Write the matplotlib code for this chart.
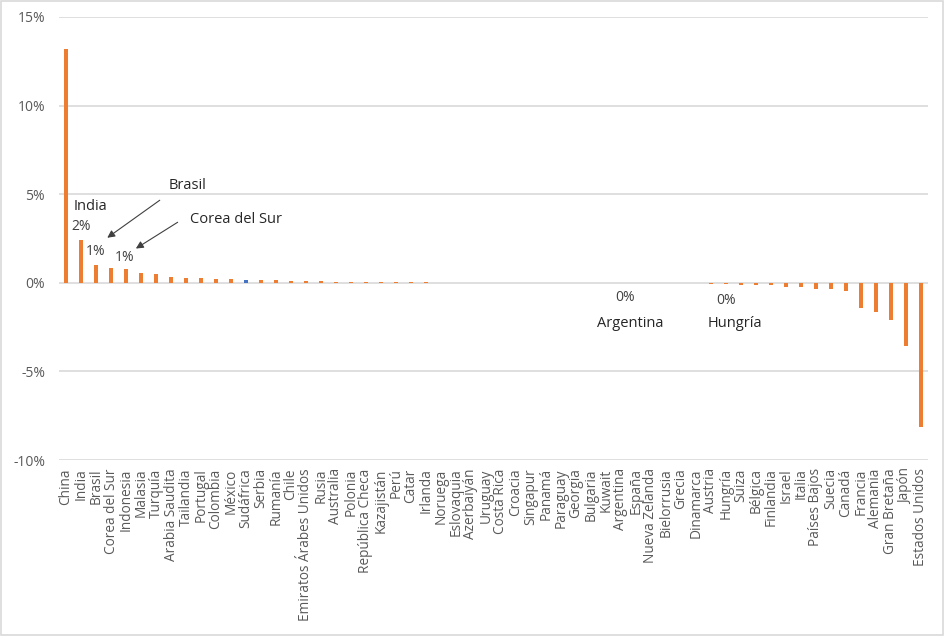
import matplotlib
matplotlib.use('Agg')
import matplotlib.pyplot as plt
import matplotlib.patches as mpatches
import numpy as np

plt.rcParams.update({
    'font.family': ['Open Sans', 'DejaVu Sans'],
    'font.size': 10,
})

# ============================================================
# Data (in %)
# ============================================================
countries = [
    'China', 'India', 'Brasil', 'Corea del Sur', 'Indonesia', 'Malasia', 'Turquía',
    'Arabia Saudita', 'Tailandia', 'Portugal', 'Colombia', 'México', 'Sudáfrica',
    'Serbia', 'Rumanía', 'Chile', 'Emiratos Árabes Unidos', 'Rusia', 'Australia',
    'Polonia', 'República Checa', 'Kazajistán', 'Perú', 'Catar', 'Irlanda',
    'Noruega', 'Eslovaquia', 'Azerbaiyán', 'Uruguay', 'Costa Rica', 'Croacia',
    'Singapur', 'Panamá', 'Paraguay', 'Georgia', 'Bulgaria', 'Kuwait', 'Argentina',
    'España', 'Nueva Zelanda', 'Bielorrusia', 'Grecia', 'Dinamarca', 'Austria',
    'Hungría', 'Suiza', 'Bélgica', 'Finlandia', 'Israel', 'Italia', 'Países Bajos',
    'Suecia', 'Canadá', 'Francia', 'Alemania', 'Gran Bretaña', 'Japón',
    'Estados Unidos',
]
values = [
    13.2, 2.43, 0.98, 0.85, 0.79, 0.55, 0.51,
    0.32, 0.28, 0.26, 0.21, 0.20, 0.17,
    0.14, 0.13, 0.12, 0.10, 0.09, 0.07,
    0.06, 0.05, 0.05, 0.04, 0.04, 0.04,
    0.0, 0.0, 0.0, 0.0, 0.0, 0.0,
    0.0, 0.0, 0.0, 0.0, 0.0, 0.0, 0.0,
    0.0, 0.0, 0.0, 0.0, 0.0, -0.04,
    -0.04, -0.15, -0.15, -0.15, -0.23, -0.23, -0.34,
    -0.34, -0.47, -1.45, -1.64, -2.10, -3.57,
    -8.12,
]
highlight = 'Sudáfrica'
yticks = [-10, -5, 0, 5, 10, 15]

col_bar = '#ED7D31'
col_hl = '#4472C4'
col_grid = '#D9D9D9'
col_tick = '#595959'

# ============================================================
# Figure
# ============================================================
fig = plt.figure(figsize=(9.45, 6.36), dpi=100)
ax = fig.add_axes([0.0624, 0.2767, 0.9196, 0.6966])

x = np.arange(len(countries))
colors = [col_hl if c == highlight else col_bar for c in countries]
ax.bar(x, values, width=0.32, color=colors, zorder=3)

ax.set_xlim(-0.47, len(countries) - 0.53)
ax.set_ylim(-10, 15)
ax.set_yticks(yticks)
ax.set_yticklabels([f'{v}%' for v in yticks], color=col_tick, fontsize=10)
ax.set_xticks(x)
ax.set_xticklabels(countries, rotation=90, color=col_tick, fontsize=9.8)
ax.tick_params(length=0, pad=6)
ax.tick_params(axis='y', pad=10)
ax.grid(axis='y', color=col_grid, lw=1.2, zorder=0)
for s in ax.spines.values():
    s.set_visible(False)

# ============================================================
# Annotations
# ============================================================
def xi(name):
    return countries.index(name)

txt_kw = dict(fontsize=10.5, color='#262626', ha='center', va='center')
lab_kw = dict(fontsize=10, color='#404040', ha='center', va='center')
arr_kw = dict(arrowstyle='-|>', color='#404040', lw=0.8, mutation_scale=11)

ax.text(xi('India') + 0.6, 4.3, 'India', **txt_kw)
ax.text(xi('India'), 3.2, '2%', **lab_kw)
ax.text(xi('Brasil'), 1.75, '1%', **lab_kw)
ax.text(xi('Corea del Sur') + 0.9, 1.45, '1%', **lab_kw)

ax.text(xi('Indonesia') + 4.1, 5.5, 'Brasil', **txt_kw)
ax.annotate('', xy=(xi('Brasil') + 0.6, 2.45), xytext=(xi('Indonesia') + 2.4, 4.75),
            arrowprops=arr_kw)
ax.text(xi('Indonesia') + 7.3, 3.6, 'Corea del Sur', **txt_kw)
ax.annotate('', xy=(xi('Corea del Sur') + 1.5, 1.85), xytext=(xi('Indonesia') + 3.6, 3.5),
            arrowprops=arr_kw)

ax.text(xi('Argentina') + 0.3, -0.85, '0%', **lab_kw)
ax.text(xi('Argentina') + 0.65, -2.3, 'Argentina', **txt_kw)
ax.text(xi('Hungría'), -1.0, '0%', **lab_kw)
ax.text(xi('Hungría') + 0.6, -2.3, 'Hungría', **txt_kw)

# light border round the whole chart
fig.patches.append(mpatches.Rectangle((0.001, 0.002), 0.997, 0.996, transform=fig.transFigure,
                                      fill=False, edgecolor=col_grid, lw=1.2))

plt.savefig('out.png', dpi=100)
